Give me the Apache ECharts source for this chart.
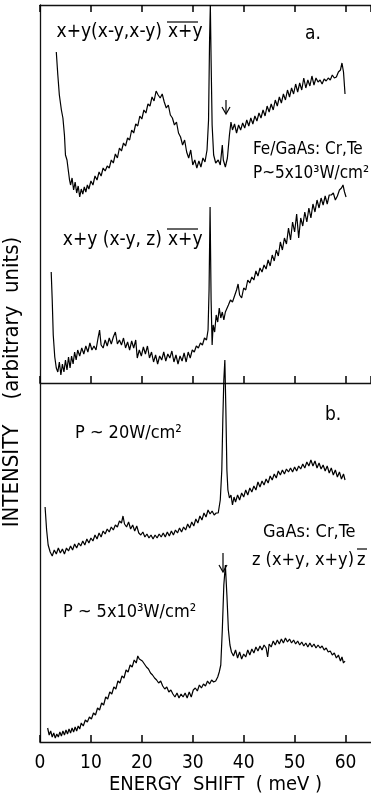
<!DOCTYPE html>
<html><head><meta charset="utf-8">
<script src="https://cdn.jsdelivr.net/npm/echarts@6/dist/echarts.min.js"></script>
<style>html,body{margin:0;padding:0;background:#fff}#c{width:371px;height:797px}</style>
</head><body><div id="c"></div>
<script>
const FONT = "'DejaVu Sans Condensed','Liberation Sans Narrow','Roboto Condensed','DejaVu Sans',sans-serif";

// x axis (energy shift, meV)
const xMin = 0, xMax = 65, xStep = 10;
const xTickLabels = [0, 10, 20, 30, 40, 50, 60];

// Panel a: x+y(x-y,x-y) x+y  [energy meV, intensity arb. units]
const curveA1 = [[3.2,331],[3.5,308],[3.8,288],[4.2,273],[4.5,265],[4.8,248],[5.0,228],[5.3,223],[5.6,211],[5.8,203],
[6.0,198],[6.3,205],[6.6,193],[6.9,201],[7.2,190],[7.5,197],[7.8,186],[8.1,194],[8.4,189],[8.7,196],
[9.0,191],[9.3,198],[9.6,194],[10.0,202],[10.4,198],[10.8,207],[11.2,203],[11.6,211],[12.0,207],[12.4,215],
[12.8,212],[13.2,217],[13.6,215],[14.0,223],[14.4,220],[14.8,229],[15.2,225],[15.6,235],[16.0,232],[16.4,240],
[16.8,237],[17.2,245],[17.6,243],[18.0,253],[18.4,250],[18.8,259],[19.2,257],[19.6,267],[20.0,264],[20.4,273],
[20.8,270],[21.2,279],[21.6,277],[22.0,286],[22.4,282],[22.8,292],[23.2,288],[23.6,285],[24.0,289],[24.4,281],
[24.8,275],[25.2,278],[25.6,268],[26.0,265],[26.4,258],[26.8,261],[27.2,250],[27.6,246],[28.0,238],[28.4,243],
[28.8,231],[29.2,225],[29.6,233],[30.0,218],[30.4,223],[30.8,215],[31.2,222],[31.6,216],[32.0,225],[32.4,221],
[32.8,233],[33.1,263],[33.3,343],[33.45,378],[33.6,323],[33.8,258],[34.1,228],[34.5,220],[35.0,223],[35.4,218],
[35.8,238],[36.0,223],[36.4,216],[36.8,225],[37.2,248],[37.5,261],[37.8,253],[38.2,259],[38.6,250],[39.0,258],
[39.4,253],[39.8,260],[40.2,255],[40.6,263],[41.0,257],[41.4,265],[41.8,259],[42.2,267],[42.6,262],[43.0,270],
[43.4,265],[43.8,273],[44.2,267],[44.6,277],[45.0,271],[45.4,279],[45.8,273],[46.2,283],[46.6,277],[47.0,286],
[47.4,280],[47.8,289],[48.2,283],[48.6,293],[49.0,286],[49.4,295],[49.8,289],[50.2,299],[50.6,291],[51.0,300],
[51.4,293],[51.8,305],[52.2,295],[52.6,303],[53.0,297],[53.4,307],[53.8,298],[54.2,305],[54.6,301],[55.0,303],
[55.4,299],[55.8,304],[56.2,302],[56.6,305],[57.0,303],[57.4,308],[57.8,305],[58.2,306],[58.6,311],[59.0,313],
[59.3,320],[59.6,311],[59.9,289]];

// Panel a: x+y(x-y,z) x+y
const curveA2 = [[2.2,111],[2.4,83],[2.6,48],[2.9,26],[3.2,15],[3.5,11],[3.8,21],[4.1,8],[4.4,19],[4.7,11],
[5.0,23],[5.3,13],[5.6,26],[5.9,15],[6.2,27],[6.5,19],[6.8,31],[7.1,23],[7.4,33],[7.8,27],
[8.2,35],[8.6,29],[9.0,37],[9.4,31],[9.8,40],[10.2,33],[10.6,37],[11.0,33],[11.4,45],[11.7,53],
[12.0,38],[12.4,35],[12.8,43],[13.2,37],[13.6,45],[14.0,39],[14.4,46],[14.8,51],[15.2,39],[15.6,43],
[16.0,38],[16.4,45],[16.8,35],[17.2,41],[17.6,33],[18.0,42],[18.4,35],[18.8,43],[19.1,25],[19.5,33],
[19.9,27],[20.3,36],[20.7,29],[21.1,37],[21.5,25],[21.9,31],[22.3,21],[22.7,28],[23.1,19],[23.5,27],
[23.9,23],[24.3,31],[24.7,22],[25.1,29],[25.5,25],[25.9,32],[26.3,21],[26.7,28],[27.1,19],[27.5,27],
[27.9,22],[28.3,30],[28.7,21],[29.1,31],[29.5,25],[29.9,33],[30.3,31],[30.7,37],[31.1,35],[31.5,40],
[31.9,38],[32.3,45],[32.7,43],[33.0,53],[33.2,93],[33.4,176],[33.6,83],[33.8,38],[34.0,58],[34.3,51],
[34.6,68],[34.9,61],[35.2,75],[35.5,65],[35.8,71],[36.1,63],[36.4,71],[36.7,73],[37.0,78],[37.4,83],
[37.8,81],[38.2,87],[38.6,93],[38.9,99],[39.2,88],[39.6,85],[40.0,95],[40.4,93],[40.8,103],[41.2,100],
[41.6,106],[42.0,103],[42.4,112],[42.8,107],[43.2,115],[43.6,111],[44.0,118],[44.4,114],[44.8,123],[45.2,117],
[45.6,128],[46.0,122],[46.4,133],[46.8,127],[47.2,141],[47.6,133],[48.0,145],[48.4,139],[48.8,155],[49.2,143],
[49.6,161],[50.0,151],[50.4,169],[50.8,145],[51.2,165],[51.6,157],[52.0,171],[52.4,161],[52.8,175],[53.2,165],
[53.6,179],[54.0,171],[54.4,183],[54.8,175],[55.2,185],[55.6,178],[56.0,187],[56.4,179],[56.8,188],[57.2,188],
[57.6,190],[58.0,183],[58.4,187],[58.8,193],[59.2,195],[59.5,198],[59.8,191],[60.1,186]];

// Panel b: P ~ 20 W/cm2
const curveB1 = [[1.0,235],[1.3,212],[1.6,197],[2.0,190],[2.4,186],[2.8,192],[3.2,188],[3.6,194],[4.0,189],[4.4,193],
[4.8,188],[5.2,194],[5.6,191],[6.0,196],[6.4,192],[6.8,198],[7.2,194],[7.6,199],[8.0,196],[8.4,201],
[8.8,197],[9.2,203],[9.6,199],[10.0,204],[10.4,201],[10.8,207],[11.2,203],[11.6,209],[12.0,205],[12.4,211],
[12.8,208],[13.2,213],[13.6,210],[14.0,215],[14.4,212],[14.8,217],[15.2,215],[15.6,221],[16.0,219],[16.3,226],
[16.6,218],[17.0,215],[17.4,220],[17.8,213],[18.2,217],[18.6,211],[19.0,216],[19.4,209],[19.8,207],[20.2,210],
[20.6,205],[21.0,208],[21.4,204],[21.8,207],[22.2,203],[22.6,207],[23.0,204],[23.4,208],[23.8,205],[24.2,209],
[24.6,205],[25.0,210],[25.4,206],[25.8,211],[26.2,207],[26.6,212],[27.0,209],[27.4,214],[27.8,210],[28.2,215],
[28.6,212],[29.0,218],[29.4,214],[29.8,220],[30.2,216],[30.6,223],[31.0,219],[31.4,226],[31.8,222],[32.2,229],
[32.6,225],[33.0,232],[33.4,228],[33.8,231],[34.2,227],[34.6,229],[35.0,229],[35.4,242],[35.7,272],[35.9,322],
[36.1,362],[36.3,382],[36.5,332],[36.7,272],[36.9,252],[37.2,244],[37.5,247],[37.8,237],[38.1,245],[38.4,240],
[38.8,247],[39.2,242],[39.6,249],[40.0,245],[40.4,252],[40.8,247],[41.2,254],[41.6,250],[42.0,256],[42.4,252],
[42.8,260],[43.2,255],[43.6,261],[44.0,257],[44.4,263],[44.8,259],[45.2,266],[45.6,262],[46.0,268],[46.4,264],
[46.8,271],[47.2,267],[47.6,272],[48.0,268],[48.4,273],[48.8,270],[49.2,274],[49.6,270],[50.0,275],[50.4,271],
[50.8,276],[51.2,273],[51.6,278],[52.0,274],[52.4,280],[52.8,276],[53.2,282],[53.6,276],[54.0,281],[54.4,274],
[54.8,279],[55.2,273],[55.6,277],[56.0,271],[56.4,276],[56.8,269],[57.2,274],[57.6,267],[58.0,272],[58.4,265],
[58.8,270],[59.2,263],[59.6,268],[59.9,262]];

// Panel b: P ~ 5x10^3 W/cm2
const curveB2 = [[1.5,14],[1.8,7],[2.1,11],[2.4,5],[2.7,9],[3.0,4],[3.3,8],[3.6,5],[3.9,10],[4.2,6],
[4.5,11],[4.8,7],[5.1,12],[5.4,8],[5.7,13],[6.0,9],[6.3,14],[6.6,10],[6.9,15],[7.2,11],
[7.5,16],[7.8,13],[8.1,19],[8.5,16],[8.9,22],[9.3,20],[9.7,25],[10.1,23],[10.5,29],[10.9,27],
[11.3,34],[11.7,32],[12.1,39],[12.5,37],[12.9,45],[13.3,43],[13.7,50],[14.1,48],[14.5,55],[14.9,53],
[15.3,61],[15.7,59],[16.1,66],[16.5,64],[16.9,72],[17.3,70],[17.7,77],[18.1,75],[18.5,82],[18.9,79],
[19.2,86],[19.5,83],[19.8,85],[20.1,81],[20.5,78],[20.9,75],[21.3,73],[21.7,69],[22.1,67],[22.5,64],
[22.9,62],[23.3,59],[23.7,61],[24.1,56],[24.5,53],[24.9,55],[25.3,50],[25.7,52],[26.1,48],[26.5,45],
[26.9,49],[27.3,44],[27.7,48],[28.1,45],[28.5,49],[28.9,44],[29.3,50],[29.7,45],[30.1,52],[30.5,54],
[30.9,51],[31.3,57],[31.7,54],[32.1,58],[32.5,56],[32.9,61],[33.3,58],[33.7,62],[34.1,60],[34.5,61],
[34.9,65],[35.2,70],[35.5,77],[35.8,112],[36.1,157],[36.4,177],[36.7,147],[37.0,112],[37.3,97],[37.6,90],
[38.0,86],[38.4,92],[38.8,84],[39.2,90],[39.6,83],[40.0,88],[40.4,85],[40.8,92],[41.2,87],[41.6,93],
[42.0,89],[42.4,95],[42.8,91],[43.2,96],[43.6,92],[44.0,97],[44.4,94],[44.7,85],[45.0,98],[45.4,95],
[45.8,101],[46.2,97],[46.6,102],[47.0,98],[47.4,103],[47.8,99],[48.2,104],[48.6,100],[49.0,103],[49.4,99],
[49.8,102],[50.2,98],[50.6,101],[51.0,97],[51.4,100],[51.8,96],[52.2,99],[52.6,95],[53.0,99],[53.4,95],
[53.8,98],[54.2,94],[54.6,97],[55.0,94],[55.4,96],[55.8,92],[56.2,94],[56.6,90],[57.0,91],[57.4,87],
[57.8,89],[58.2,84],[58.6,87],[59.0,81],[59.3,85],[59.6,79],[59.9,81]];

const panelAMax = 378, panelBMax = 359;

const chart = echarts.init(document.getElementById('c'), null, {renderer: 'canvas'});
const axisLine = {show: true, onZero: false, lineStyle: {color: '#111', width: 1.3}};
function xAx(grid, pos, labels) {
  return {
    gridIndex: grid, type: 'value', position: pos, min: xMin, max: xMax, interval: xStep,
    axisLine: axisLine,
    axisTick: {show: true, inside: true, length: 7, lineStyle: {color: '#000', width: 1.5}},
    axisLabel: labels ? {show: true, margin: 12, color: '#000', fontSize: 19, fontFamily: FONT,
      showMaxLabel: false,
      formatter: v => xTickLabels.indexOf(v) >= 0 ? String(v) : ''} : {show: false},
    splitLine: {show: false},
    name: labels ? 'ENERGY  SHIFT  ( meV )' : '',
    nameLocation: 'middle', nameGap: 33,
    nameTextStyle: {color: '#000', fontSize: 20, fontFamily: FONT, padding: [0, 0, 0, 20]}
  };
}
function yAx(grid, max) {
  return {gridIndex: grid, type: 'value', min: 0, max: max, axisLine: axisLine,
    axisTick: {show: false}, axisLabel: {show: false}, splitLine: {show: false}};
}
function ser(data, xi, yi) {
  return {type: 'line', data: data, xAxisIndex: xi, yAxisIndex: yi, symbol: 'none', showSymbol: false,
    clip: false, lineStyle: {color: '#000', width: 1.2}, animation: false, silent: true, z: 3};
}
const txt = (t, x, y, size, align) => ({type: 'text', x: x, y: y, silent: true,
  style: {text: t, fill: '#000', font: size + 'px ' + FONT, align: align || 'left', verticalAlign: 'middle'}});
const ln = (x1, y1, x2, y2) => ({type: 'line', silent: true, shape: {x1, y1, x2, y2},
  style: {stroke: '#000', lineWidth: 1.2}});
const arrowHead = (x, y) => ({type: 'polyline', silent: true,
  shape: {points: [[x - 4, y - 7], [x, y], [x + 4, y - 7]]}, style: {stroke: '#000', lineWidth: 1.2, fill: null}});

chart.setOption({
  animation: false,
  backgroundColor: '#fff',
  grid: [
    {left: 40, top: 5, width: 334.75, height: 378},
    {left: 40, top: 383, width: 334.75, height: 359}
  ],
  xAxis: [xAx(0, 'bottom', false), xAx(0, 'top', false), xAx(1, 'bottom', true)],
  yAxis: [yAx(0, panelAMax), yAx(1, panelBMax)],
  series: [ser(curveA1, 0, 0), ser(curveA2, 0, 0), ser(curveB1, 2, 1), ser(curveB2, 2, 1)],
  graphic: [
    txt('x+y(x-y,x-y)', 162, 32, 19, 'right'),
    txt('x+y', 168, 32, 19),
    ln(167, 22, 198, 22),
    txt('a.', 305, 34, 19),
    txt('Fe/GaAs: Cr,Te', 253, 150, 17),
    txt('P~5x10³W/cm²', 253, 174, 17),
    txt('x+y (x-y, z)', 162, 240, 19, 'right'),
    txt('x+y', 168, 240, 19),
    ln(167, 229, 198, 229),
    ln(226, 100, 226, 113), arrowHead(226, 114),
    txt('b.', 325, 415, 19),
    txt('P ~ 20W/cm²', 75, 433, 18),
    txt('GaAs: Cr,Te', 263, 532, 18),
    txt('z (x+y, x+y)', 354, 560, 18, 'right'),
    txt('z', 357, 560, 18),
    ln(357, 549, 367, 549),
    ln(223, 553, 223, 571), arrowHead(223, 572),
    txt('P ~ 5x10³W/cm²', 63, 612, 18),
    {type: 'text', x: 12, y: 382, rotation: Math.PI / 2, silent: true,
      style: {text: 'INTENSITY    (arbitrary  units)', fill: '#000', font: '22px ' + FONT,
        align: 'center', verticalAlign: 'middle'}}
  ]
});
</script></body></html>
